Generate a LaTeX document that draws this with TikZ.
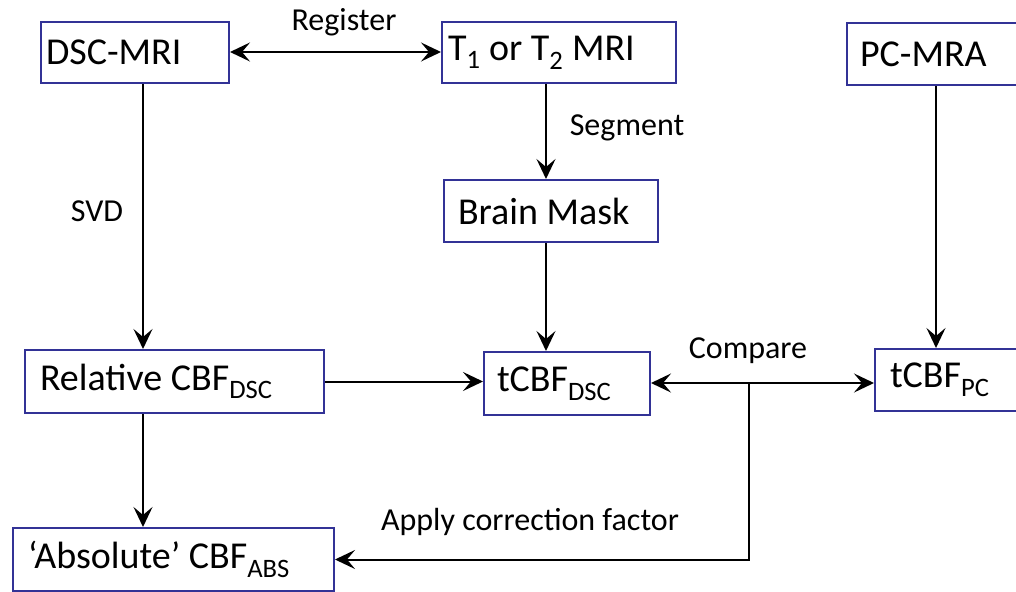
\documentclass[tikz,border=0pt]{standalone}
\usepackage{fontspec}
\setmainfont{Carlito}
\usepackage{xcolor}
\usetikzlibrary{arrows.meta}
\definecolor{boxblue}{RGB}{50,50,150}
\tikzset{
  box/.style 2 args={draw=boxblue, line width=2pt, anchor=north west,
    minimum height=#1, text width=#2, align=flush left, inner ysep=0pt,
    font=\fontsize{38}{41}\selectfont},
  lbl/.style={font=\fontsize{32}{35}\selectfont, inner sep=0pt},
  line/.style={draw, line width=2pt, -{Stealth[length=20pt,width=19pt,inset=8pt]}},
  dline/.style={draw, line width=2pt, {Stealth[length=20pt,width=19pt,inset=8pt]}-{Stealth[length=20pt,width=19pt,inset=8pt]}}
}

\begin{document}
\begin{tikzpicture}[x=1pt, y=-1pt]
    \useasboundingbox (0,0) rectangle (1016,591);
    \clip (0,0) rectangle (1016,591);
    % Place nodes
     \node [box={61pt}{178pt}, inner xsep=5pt] (dsc) at (40,21) {DSC-MRI};
     \node [box={61pt}{222pt}, inner xsep=6pt] (tmri) at (441,21) {T\textsubscript{1} or T\textsubscript{2} MRI};
     \node [box={62pt}{164pt}, inner xsep=13pt] (pcmra) at (846,22) {PC-MRA};
     \node [box={62pt}{186pt}, inner xsep=14pt] (mask) at (443,179) {Brain Mask};
     \node [box={63pt}{269pt}, inner xsep=15pt] (rel) at (24,349) {Relative CBF\textsubscript{DSC}};
     \node [box={63pt}{140pt}, inner xsep=13pt] (tdsc) at (483,351) {tCBF\textsubscript{DSC}};
     \node [box={62pt}{130pt}, inner xsep=15pt] (tpc) at (874,348) {tCBF\textsubscript{PC}};
     \node [box={63pt}{291pt}, inner xsep=15pt] (abs) at (12,527) {`Absolute' CBF\textsubscript{ABS}};

     \coordinate (colA) at (143,0);
     \coordinate (colB) at (546,0);
     \coordinate (colC) at (936,0);
     \coordinate (split) at (749,383);

     % Labels
     \node [lbl] (reg) at (344,22) {Register};
     \node [lbl] (seg) at (627,128) {Segment};
     \node [lbl] (svd) at (97,211) {SVD};
     \node [lbl] (cmp) at (748,351) {Compare};
     \node [lbl] (corr) at (530,522) {Apply correction factor};

     \path [dline] (dsc.east |- 0,52) -- (tmri.west |- 0,52);
     \path [line] (dsc.south -| colA) -- (rel.north -| colA);
     \path [line] (tmri.south -| colB) -- (mask.north -| colB);
     \path [line] (mask.south -| colB) -- (tdsc.north -| colB);
     \path [line] (pcmra.south -| colC) -- (tpc.north -| colC);
     \path [line] (rel.east) -- (rel.east -| tdsc.west);
     \path [dline] (tdsc.east |- split) -- (tpc.west |- split);
     \path [line] (rel.south -| colA) -- (abs.north -| colA);
     \path [line] (split) |- (abs.east);

\end{tikzpicture}
\end{document}
